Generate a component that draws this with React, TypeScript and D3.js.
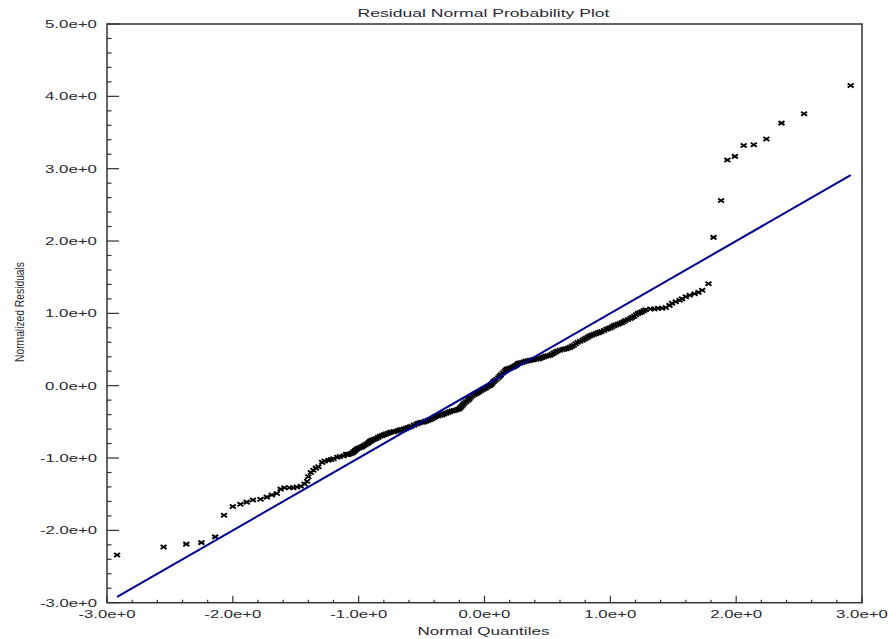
import React from "react";
import * as d3 from "d3";

// Normal quantiles (x) and sorted normalized residuals (y)
const quantiles = [
  -2.92, -2.55, -2.37, -2.25, -2.14, -2.07, -2.0, -1.94, -1.89, -1.84, -1.78, -1.73, -1.69, -1.65, -1.62,
  -1.59, -1.55, -1.52, -1.49, -1.46, -1.43, -1.41, -1.4, -1.38, -1.36, -1.34, -1.32, -1.29, -1.27, -1.24,
  -1.22, -1.2, -1.17, -1.15, -1.12, -1.1, -1.08, -1.05, -1.03, -1.01, -0.98, -0.96, -0.93, -0.91, -0.89,
  -0.86, -0.83, -0.8, -0.77, -0.74, -0.7, -0.67, -0.64, -0.61, -0.58, -0.54, -0.51, -0.48, -0.45, -0.42,
  -0.39, -0.35, -0.32, -0.29, -0.26, -0.23, -0.2, -0.18, -0.16, -0.13, -0.11, -0.08, -0.06, -0.04, -0.01,
  0.01, 0.04, 0.06, 0.08, 0.11, 0.13, 0.16, 0.18, 0.2, 0.23, 0.25, 0.27, 0.3, 0.33, 0.36,
  0.39, 0.43, 0.46, 0.49, 0.52, 0.55, 0.58, 0.62, 0.65, 0.68, 0.71, 0.74, 0.78, 0.81, 0.84,
  0.87, 0.9, 0.93, 0.97, 1.0, 1.03, 1.06, 1.09, 1.12, 1.16, 1.19, 1.22, 1.25, 1.28, 1.32,
  1.35, 1.38, 1.41, 1.44, 1.47, 1.49, 1.52, 1.55, 1.57, 1.6, 1.63, 1.67, 1.7, 1.73, 1.78,
  1.82, 1.88, 1.93, 1.99, 2.06, 2.14, 2.24, 2.36, 2.54, 2.91,
];
const residuals = [
  -2.34, -2.23, -2.19, -2.17, -2.09, -1.79, -1.67, -1.64, -1.61, -1.58, -1.57, -1.54, -1.51, -1.49, -1.43,
  -1.41, -1.41, -1.41, -1.4, -1.39, -1.36, -1.32, -1.26, -1.2, -1.17, -1.14, -1.12, -1.06, -1.04, -1.03,
  -1.02, -1.01, -0.99, -0.98, -0.97, -0.95, -0.95, -0.93, -0.9, -0.87, -0.85, -0.83, -0.8, -0.77, -0.75,
  -0.73, -0.7, -0.68, -0.66, -0.64, -0.63, -0.61, -0.6, -0.58, -0.56, -0.53, -0.51, -0.5, -0.48, -0.46,
  -0.43, -0.41, -0.39, -0.37, -0.35, -0.34, -0.32, -0.28, -0.24, -0.2, -0.16, -0.12, -0.1, -0.08, -0.05,
  -0.03, 0.0, 0.03, 0.07, 0.11, 0.15, 0.2, 0.23, 0.24, 0.26, 0.28, 0.31, 0.32, 0.34, 0.35,
  0.36, 0.37, 0.39, 0.41, 0.42, 0.45, 0.48, 0.5, 0.51, 0.53, 0.56, 0.6, 0.63, 0.66, 0.69,
  0.71, 0.73, 0.75, 0.78, 0.8, 0.83, 0.85, 0.87, 0.9, 0.93, 0.96, 1.0, 1.02, 1.05, 1.06,
  1.06, 1.07, 1.07, 1.08, 1.11, 1.14, 1.16, 1.18, 1.2, 1.23, 1.25, 1.27, 1.29, 1.32, 1.41,
  2.05, 2.56, 3.12, 3.17, 3.32, 3.33, 3.41, 3.63, 3.76, 4.15,
];

// Further points read in the dense central band
const bandQuantiles = [
  -1.09, -1.065, -1.04, -1.02, -0.995, -0.97, -0.945, -0.92, -0.9, -0.875, -0.845, -0.815, -0.785, -0.755,
  -0.72, -0.685, -0.655, -0.625, -0.595, -0.56, -0.525, -0.495, -0.465, -0.435, -0.405, -0.37, -0.335,
  -0.305, -0.275, -0.245, -0.215, -0.19, -0.17, -0.145, -0.12, -0.095, -0.07, -0.05, -0.025, 0.0, 0.025,
  0.05, 0.07, 0.095, 0.12, 0.145, 0.17, 0.19, 0.215, 0.24, 0.26, 0.285, 0.315, 0.345, 0.375, 0.41, 0.445,
  0.475, 0.505, 0.535, 0.565, 0.6, 0.635, 0.665, 0.695, 0.725, 0.76, 0.795, 0.825, 0.855, 0.885, 0.915,
  0.95, 0.985, 1.015, 1.045, 1.075, 1.105, 1.14, 1.175, 1.205, 1.235, 1.265,
];
const bandResiduals = [
  -0.95, -0.94, -0.915, -0.885, -0.86, -0.84, -0.815, -0.785, -0.76, -0.74, -0.715, -0.69, -0.67, -0.65,
  -0.635, -0.62, -0.605, -0.59, -0.57, -0.545, -0.52, -0.505, -0.49, -0.47, -0.445, -0.42, -0.4,
  -0.38, -0.36, -0.345, -0.33, -0.3, -0.26, -0.22, -0.18, -0.14, -0.11, -0.09, -0.065, -0.04, -0.015,
  0.015, 0.05, 0.09, 0.13, 0.175, 0.215, 0.235, 0.25, 0.27, 0.295, 0.315, 0.33, 0.345, 0.355, 0.365, 0.38,
  0.4, 0.415, 0.435, 0.465, 0.49, 0.505, 0.52, 0.545, 0.58, 0.615, 0.645, 0.675, 0.7, 0.72, 0.74,
  0.765, 0.79, 0.815, 0.84, 0.86, 0.885, 0.915, 0.945, 0.98, 1.01, 1.035,
];

// Reference line (normal fit) endpoints
const fitX = [-2.92, 2.91];
const fitY = [-2.92, 2.91];

const xTickValues = [-3, -2, -1, 0, 1, 2, 3];
const xTickLabels = ["-3.0e+0", "-2.0e+0", "-1.0e+0", "0.0e+0", "1.0e+0", "2.0e+0", "3.0e+0"];
const yTickValues = [-3, -2, -1, 0, 1, 2, 3, 4, 5];
const yTickLabels = ["-3.0e+0", "-2.0e+0", "-1.0e+0", "0.0e+0", "1.0e+0", "2.0e+0", "3.0e+0", "4.0e+0", "5.0e+0"];

const title = "Residual Normal Probability Plot";
const xTitle = "Normal Quantiles";
const yTitle = "Normalized Residuals";

const W = 888;
const H = 639;
const L = 107;
const R = 862;
const T = 24;
const B = 602.7;

export default function App() {
  const x = d3.scaleLinear().domain([-3, 3]).range([L, R]);
  const y = d3.scaleLinear().domain([-3, 5]).range([B, T]);

  const xMinor = d3.range(-30, 31, 2).map((v) => v / 10).filter((v) => !Number.isInteger(v));
  const yMinor = d3.range(-30, 51, 2).map((v) => v / 10).filter((v) => !Number.isInteger(v));

  const pts = quantiles
    .map((q, i) => [q, residuals[i]])
    .concat(bandQuantiles.map((q, i) => [q, bandResiduals[i]]));

  const line = d3
    .line<number>()
    .x((_, i) => x(fitX[i]))
    .y((_, i) => y(fitY[i]));

  const font = "'Liberation Sans', Arial, sans-serif";
  const labelColor = "#2a2a33";
  const axisColor = "#333";

  return (
    <svg
      width={W}
      height={H}
      style={{ position: "absolute", left: 0, top: 0, display: "block", background: "#fff" }}
    >
      <rect x={0} y={0} width={W} height={H} fill="#fff" />
      {/* title */}
      <text
        x={(L + R) / 2 - 1}
        y={17}
        textAnchor="middle"
        fontFamily={font}
        fontSize={10.5}
        fill={labelColor}
        textLength={252}
        lengthAdjust="spacingAndGlyphs"
      >
        {title}
      </text>

      {/* points */}
      <g stroke="#000" strokeWidth={1.9} fill="none">
        {pts.map((p, i) => (
          <path
            key={i}
            transform={`translate(${x(p[0])},${y(p[1])})`}
            d="M-3,-2L3,2M-3,2L3,-2"
          />
        ))}
      </g>

      {/* fit line */}
      <path d={line(fitX) || ""} stroke="#00008b" strokeWidth={2} fill="none" />

      {/* frame */}
      <rect x={L} y={T} width={R - L} height={B - T} fill="none" stroke={axisColor} strokeWidth={1.5} />

      {/* ticks */}
      <g stroke={axisColor} strokeWidth={1.2}>
        {yTickValues.map((v) => (
          <line key={"ym" + v} x1={L} x2={L + 12} y1={y(v)} y2={y(v)} />
        ))}
        {yMinor.map((v) => (
          <line key={"yn" + v} x1={L} x2={L + 4.5} y1={y(v)} y2={y(v)} />
        ))}
        {xTickValues.map((v) => (
          <line key={"xm" + v} x1={x(v)} x2={x(v)} y1={B} y2={B - 7} />
        ))}
        {xMinor.map((v) => (
          <line key={"xn" + v} x1={x(v)} x2={x(v)} y1={B} y2={B - 3} />
        ))}
      </g>

      {/* y tick labels */}
      {yTickValues.map((v, i) => (
        <text
          key={"yl" + v}
          x={97}
          y={y(v) + 4}
          textAnchor="end"
          fontFamily={font}
          fontSize={10.5}
          fill={labelColor}
          textLength={v < 0 ? 57 : 52}
          lengthAdjust="spacingAndGlyphs"
        >
          {yTickLabels[i]}
        </text>
      ))}

      {/* x tick labels */}
      {xTickValues.map((v, i) => (
        <text
          key={"xl" + v}
          x={x(v)}
          y={617.5}
          textAnchor="middle"
          fontFamily={font}
          fontSize={10.5}
          fill={labelColor}
          textLength={v < 0 ? 57 : 52}
          lengthAdjust="spacingAndGlyphs"
        >
          {xTickLabels[i]}
        </text>
      ))}

      {/* axis titles */}
      <text
        x={(L + R) / 2 - 1}
        y={635}
        textAnchor="middle"
        fontFamily={font}
        fontSize={10.5}
        fill={labelColor}
        textLength={132}
        lengthAdjust="spacingAndGlyphs"
      >
        {xTitle}
      </text>
      <text
        transform="translate(24,312) rotate(-90)"
        textAnchor="middle"
        fontFamily={font}
        fontSize={13}
        fill={labelColor}
        textLength={100}
        lengthAdjust="spacingAndGlyphs"
      >
        {yTitle}
      </text>
    </svg>
  );
}
